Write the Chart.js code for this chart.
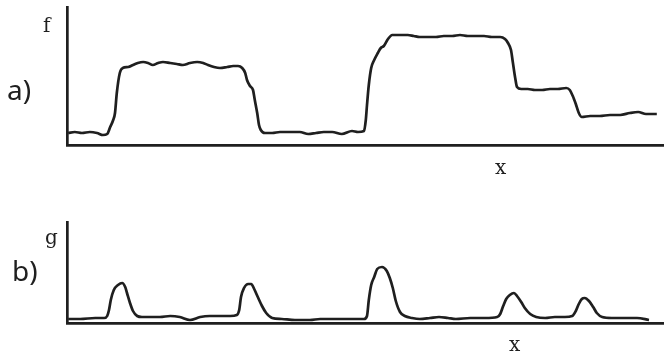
<!DOCTYPE html>
<html>
<head>
<meta charset="utf-8">
<script src="https://cdn.jsdelivr.net/npm/chart.js@4/dist/chart.umd.min.js"></script>
<style>
  html, body { margin: 0; padding: 0; background: #fff; }
  #wrap { position: relative; width: 664px; height: 357px; overflow: hidden; }
  .panel { position: absolute; left: 0; width: 664px; }
  #pa { top: 0; height: 180px; }
  #pb { top: 180px; height: 177px; }
</style>
</head>
<body>
<div id="wrap">
  <div class="panel" id="pa"><canvas id="chartA"></canvas></div>
  <div class="panel" id="pb"><canvas id="chartB"></canvas></div>
</div>
<script>
// Panel a): signal f along x (arbitrary units)
const fX = [0.2, 1.3, 2.5, 3.8, 5.0, 6.0, 6.7, 7.2, 7.7, 8.0, 8.3, 8.8, 9.3, 10.2, 11.0, 11.8, 12.7, 13.5, 14.3, 15.2,
  16.0, 17.2, 18.3, 19.3, 20.5, 21.7, 22.7, 23.5, 24.5, 25.5, 26.7, 27.7, 28.5, 29.2, 29.7, 30.0, 30.5, 31.0, 31.3, 31.7,
  32.0, 32.3, 33.0, 34.2, 35.5, 37.2, 38.8, 40.2, 41.5, 42.8, 44.2, 45.8, 47.5, 48.5, 49.5, 49.8, 50.0, 50.3, 50.7, 51.2,
  51.8, 52.3, 52.8, 53.5, 54.2, 55.5, 56.8, 57.8, 58.8, 60.2, 61.5, 62.8, 64.2, 65.5, 66.8, 68.2, 69.5, 70.8, 72.2, 73.0,
  73.5, 74.0, 74.3, 74.7, 75.0, 75.7, 76.8, 78.0, 79.2, 80.5, 81.8, 83.2, 83.8, 84.3, 84.8, 85.3, 85.8, 87.2, 88.8, 90.5,
  92.2, 93.8, 95.2, 96.5, 98.3];
const fY = [1.2, 1.3, 1.2, 1.3, 1.2, 1.0, 1.1, 1.8, 2.5, 3.2, 5.2, 7.2, 7.7, 7.8, 8.0, 8.2, 8.3, 8.2, 8.0, 8.2,
  8.3, 8.2, 8.1, 8.0, 8.2, 8.3, 8.2, 8.0, 7.8, 7.7, 7.8, 7.9, 7.9, 7.7, 7.2, 6.5, 5.9, 5.5, 4.5, 3.2,
  2.0, 1.5, 1.2, 1.2, 1.3, 1.3, 1.3, 1.1, 1.2, 1.3, 1.3, 1.1, 1.4, 1.3, 1.4, 2.5, 4.0, 6.0, 7.7, 8.5,
  9.2, 9.7, 9.9, 10.6, 11.0, 11.0, 11.0, 10.9, 10.8, 10.8, 10.8, 10.9, 10.9, 11.0, 10.9, 10.9, 10.9, 10.8, 10.8, 10.6,
  10.2, 9.5, 8.3, 6.7, 5.8, 5.6, 5.6, 5.5, 5.5, 5.6, 5.6, 5.7, 5.5, 4.9, 4.1, 3.2, 2.8, 2.9, 2.9, 3.0,
  3.0, 3.2, 3.3, 3.1, 3.1];

// Panel b): signal g along x
const gX = [0.2, 2.2, 4.7, 6.2, 6.7, 7.0, 7.3, 7.8, 8.5, 9.2, 9.7, 10.0, 10.5, 11.0, 11.7, 12.5, 13.8, 15.5, 17.2, 18.8,
  20.5, 22.2, 23.8, 25.5, 27.2, 28.3, 28.7, 29.0, 29.5, 30.2, 30.7, 31.2, 31.8, 32.5, 33.2, 34.2, 35.8, 38.0, 40.5, 42.2,
  44.2, 49.5, 50.0, 50.3, 50.7, 51.2, 51.7, 52.5, 53.3, 53.8, 54.3, 54.8, 55.5, 56.3, 57.5, 58.8, 60.5, 62.0, 63.5, 64.8,
  67.2, 69.7, 71.7, 72.2, 72.7, 73.2, 73.8, 74.5, 75.0, 75.7, 76.3, 77.2, 78.2, 79.7, 81.3, 83.0, 84.2, 84.8, 85.3, 85.8,
  86.3, 87.0, 87.7, 88.3, 89.2, 90.8, 93.0, 95.0, 97.0];
const gY = [0.4, 0.4, 0.5, 0.5, 0.7, 1.3, 2.3, 3.3, 3.8, 4.0, 3.6, 3.0, 2.0, 1.2, 0.7, 0.6, 0.6, 0.6, 0.7, 0.6,
  0.3, 0.6, 0.7, 0.7, 0.7, 0.8, 1.3, 2.6, 3.5, 3.9, 3.9, 3.4, 2.6, 1.7, 1.0, 0.5, 0.4, 0.3, 0.3, 0.4,
  0.4, 0.4, 0.7, 2.3, 3.8, 4.6, 5.4, 5.6, 5.2, 4.5, 3.5, 2.2, 1.1, 0.7, 0.5, 0.4, 0.5, 0.6, 0.5, 0.4,
  0.5, 0.5, 0.6, 0.9, 1.7, 2.4, 2.8, 3.0, 2.7, 2.1, 1.5, 0.9, 0.6, 0.5, 0.6, 0.6, 0.7, 1.2, 1.9, 2.4,
  2.5, 2.2, 1.6, 1.0, 0.6, 0.5, 0.5, 0.5, 0.3];

const INK = '#1f1f1f';
const SERIF = '20px "DejaVu Serif"';
const SANS = '28px "Noto Sans"';

function toPoints(xs, ys) {
  return xs.map((x, i) => ({ x: x, y: ys[i] }));
}

// Writes the panel letter and axis names onto the canvas
function labelPlugin(items) {
  return {
    id: 'panelLabels',
    afterDraw(chart) {
      const ctx = chart.ctx;
      ctx.save();
      ctx.fillStyle = INK;
      ctx.textBaseline = 'alphabetic';
      items.forEach(it => {
        ctx.font = it.font;
        ctx.fillText(it.text, it.x, it.y);
      });
      ctx.restore();
    }
  };
}

function makeChart(id, xs, ys, yMax, pad, labels) {
  return new Chart(document.getElementById(id), {
    type: 'line',
    data: {
      datasets: [{
        data: toPoints(xs, ys),
        borderColor: INK,
        borderWidth: 2.7,
        pointRadius: 0,
        fill: false,
        cubicInterpolationMode: 'monotone'
      }]
    },
    options: {
      responsive: true,
      maintainAspectRatio: false,
      animation: false,
      events: [],
      layout: { padding: pad },
      plugins: { legend: { display: false }, tooltip: { enabled: false } },
      scales: {
        x: {
          type: 'linear', min: 0, max: 99.5,
          grid: { display: false, drawTicks: false },
          ticks: { display: false },
          border: { display: true, color: INK, width: 2.7 }
        },
        y: {
          type: 'linear', min: 0, max: yMax,
          grid: { display: false, drawTicks: false },
          ticks: { display: false },
          border: { display: true, color: INK, width: 2.7 }
        }
      }
    },
    plugins: [labelPlugin(labels)]
  });
}

makeChart('chartA', fX, fY, 13.8, { left: 67, top: 7, right: 0, bottom: 35 }, [
  { text: 'f', x: 43, y: 32, font: SERIF },
  { text: 'a)', x: 7, y: 100, font: SANS },
  { text: 'x', x: 495, y: 174, font: SERIF }
]);

makeChart('chartB', gX, gY, 10.1, { left: 67, top: 42, right: 0, bottom: 34 }, [
  { text: 'g', x: 45, y: 64, font: SERIF },
  { text: 'b)', x: 12, y: 101, font: SANS },
  { text: 'x', x: 509, y: 171, font: SERIF }
]);
</script>
</body>
</html>
